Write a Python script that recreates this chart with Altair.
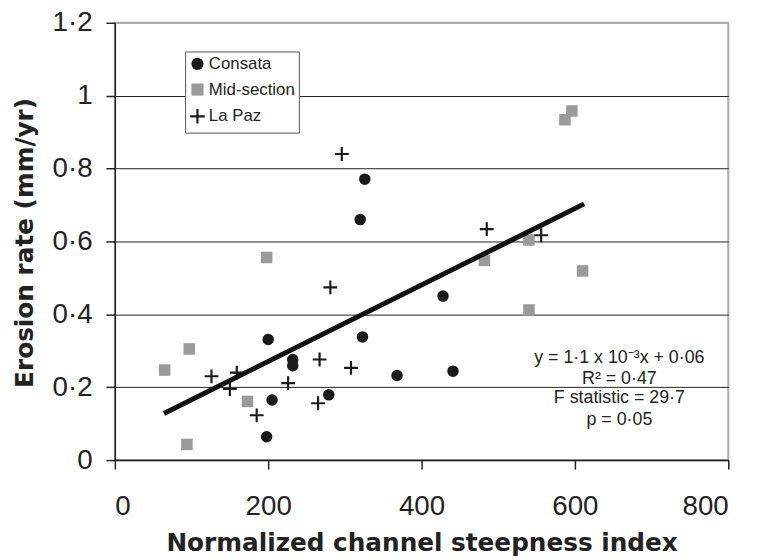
import altair as alt
import pandas as pd

# ---- data ----
consata_x = [326, 320, 428, 200, 323, 232, 232, 368, 441, 205, 279, 198]
consata_y = [0.771, 0.660, 0.450, 0.331, 0.338, 0.276, 0.259, 0.232, 0.244, 0.165, 0.179, 0.064]

mid_x = [587, 596, 198, 97, 65, 173, 94, 482, 540, 610, 540]
mid_y = [0.934, 0.958, 0.556, 0.305, 0.247, 0.161, 0.043, 0.548, 0.604, 0.519, 0.412]

lapaz_x = [296, 281, 126, 159, 150, 226, 267, 308, 265, 185, 485, 556]
lapaz_y = [0.840, 0.474, 0.230, 0.240, 0.195, 0.211, 0.276, 0.253, 0.156, 0.123, 0.634, 0.617]

series_names = ["Consata", "Mid-section", "La Paz"]

fit_x = [64, 612]
fit_y = [0.128, 0.703]

x_ticks = [0, 200, 400, 600, 800]
y_ticks = [0, 0.2, 0.4, 0.6, 0.8, 1.0, 1.2]

ann_text = ["y = 1·1 x 10⁻³x + 0·06", "R² = 0·47", "F statistic = 29·7", "p = 0·05"]
ann_x = [658, 658, 658, 658]
ann_y = [0.280, 0.222, 0.171, 0.109]

# ---- tables ----
pts = pd.DataFrame({
    "x": consata_x + mid_x + lapaz_x,
    "y": consata_y + mid_y + lapaz_y,
    "series": [series_names[0]] * len(consata_x)
    + [series_names[1]] * len(mid_x)
    + [series_names[2]] * len(lapaz_x),
})
fit = pd.DataFrame({"x": fit_x, "y": fit_y})
ann = pd.DataFrame({"x": ann_x, "y": ann_y, "t": ann_text})

FONT = "Liberation Sans"
TFONT = "DejaVu Sans"

xscale = alt.Scale(domain=[0, 800], nice=False, zero=False)
yscale = alt.Scale(domain=[0, 1.2], nice=False, zero=False)

xaxis = alt.Axis(
    values=x_ticks, grid=False, title="Normalized channel steepness index",
    labelFont=FONT, labelFontSize=28, labelColor="#222", labelPadding=24,
    tickSize=9, tickWidth=1.5, tickColor="#222", domainColor="#222", domainWidth=1.5,
    titleFont=TFONT, titleFontSize=25, titleFontWeight="bold", titleColor="#222",
    titleX=310, titleY=91, titleBaseline="alphabetic", titleAlign="center",
)
yaxis = alt.Axis(
    values=y_ticks, grid=True,
    gridColor={"condition": {"test": "datum.value > 1.1", "value": "#aaaaaa"}, "value": "#222222"},
    gridWidth=1,
    labelExpr="replace(toString(datum.value), '.', '·')",
    title="Erosion rate (mm/yr)",
    labelFont=FONT, labelFontSize=28, labelColor="#222", labelPadding=14,
    tickSize=9, tickWidth=1.5, tickColor="#222", domainColor="#222", domainWidth=1.5,
    titleFont=TFONT, titleFontSize=25, titleFontWeight="bold", titleColor="#222",
    titleAngle=-90, titleX=-83, titleY=222, titleBaseline="alphabetic", titleAlign="center",
)

shape_range = ["circle", "square", "M-1.2,0H1.2M0,-1.2V1.2"]

points = alt.Chart(pts).mark_point(filled=True, opacity=1, strokeWidth=2.2, size=135).encode(
    x=alt.X("x:Q", scale=xscale, axis=xaxis),
    y=alt.Y("y:Q", scale=yscale, axis=yaxis),
    shape=alt.Shape("series:N", scale=alt.Scale(domain=series_names, range=shape_range),
                    legend=alt.Legend(title=None)),
    fill=alt.Fill("series:N", scale=alt.Scale(domain=series_names,
                  range=["#1a1a1a", "#9a9a9a", "transparent"]), legend=alt.Legend(title=None)),
    stroke=alt.Stroke("series:N", scale=alt.Scale(domain=series_names,
                      range=["transparent", "transparent", "#1a1a1a"]), legend=alt.Legend(title=None)),
)

line = alt.Chart(fit).mark_line(color="#111111", strokeWidth=5, strokeCap="butt").encode(
    x=alt.X("x:Q", scale=xscale),
    y=alt.Y("y:Q", scale=yscale),
)

text = alt.Chart(ann).mark_text(font=FONT, fontSize=18, color="#222", align="center",
                                baseline="middle").encode(
    x=alt.X("x:Q", scale=xscale),
    y=alt.Y("y:Q", scale=yscale),
    text="t:N",
)

chart = alt.layer(points, line, text).properties(
    width=620, height=442,
    autosize=alt.AutoSizeParams(type="none"),
    padding={"left": 108, "top": 12, "right": 25, "bottom": 96},
).configure_view(
    stroke="#aaaaaa", strokeWidth=2,
).configure_legend(
    orient="none", legendX=71, legendY=29,
    strokeColor="#555555", fillColor="white", padding=4,
    labelFont=FONT, labelFontSize=17, labelColor="#222", labelOffset=3,
    rowPadding=3, symbolSize=150, symbolStrokeWidth=2.2, cornerRadius=0,
)

chart.save("out.html", embed_options={"renderer": "svg", "actions": False})
